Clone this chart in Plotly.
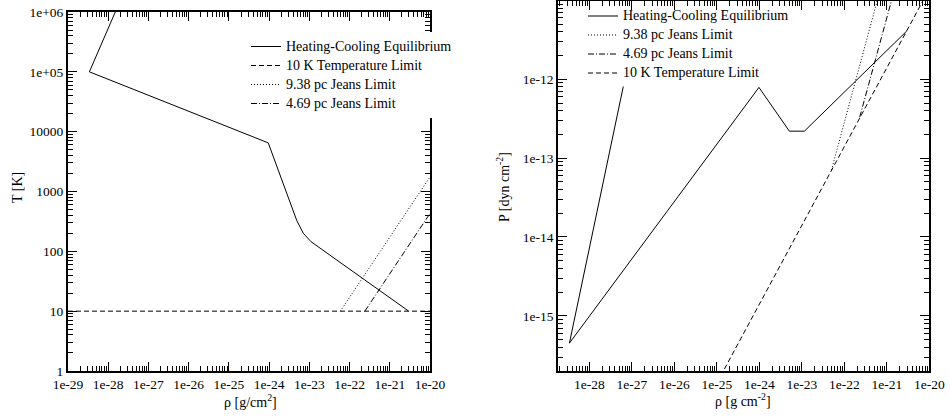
import plotly.graph_objects as go

W, H = 950, 417
FONT = "Liberation Serif"

# ---------------- data: left panel (T vs rho) ----------------
hc_rho_L = [6.3e-28, 3.4e-29, 9.5e-25, 4.9e-24, 7.1e-24, 1.1e-23, 2.95e-21]
hc_T_L = [9.3e6, 1.0e5, 6.5e3, 324, 200, 145, 10]
tlim_rho_L = [1e-29, 1e-20]
tlim_T_L = [10, 10]
j938_rho_L = [5.9e-23, 1e-20]
j938_T_L = [10, 1.75e3]
j469_rho_L = [2.4e-22, 1e-20]
j469_T_L = [10, 4.3e2]

# ---------------- data: right panel (P vs rho) ----------------
hc_rho_R = [6.3e-28, 3.4e-29, 9.8e-25, 5.1e-24, 1.15e-23, 2.95e-21]
hc_P_R = [8.1e-13, 4.5e-16, 7.9e-13, 2.2e-13, 2.2e-13, 4.1e-12]
tlim_rho_R = [1e-25, 1e-20]
tlim_P_R = [1.4e-16, 1.4e-11]
j938_rho_R = [5.0e-23, 1.0e-21]
j938_P_R = [7.1e-14, 2.8e-11]
j469_rho_R = [2.3e-22, 3.2e-21]
j469_P_R = [3.3e-13, 6.0e-11]

# ---------------- tick labels ----------------
xL_vals = [1e-29, 1e-28, 1e-27, 1e-26, 1e-25, 1e-24, 1e-23, 1e-22, 1e-21, 1e-20]
xL_text = ["1e-29", "1e-28", "1e-27", "1e-26", "1e-25", "1e-24", "1e-23", "1e-22", "1e-21", "1e-20"]
yL_vals = [1, 10, 100, 1000, 10000, 1e5, 1e6]
yL_text = ["1", "10", "100", "1000", "10000", "1e+05", "1e+06"]
xR_vals = [1e-28, 1e-27, 1e-26, 1e-25, 1e-24, 1e-23, 1e-22, 1e-21, 1e-20]
xR_text = ["1e-28", "1e-27", "1e-26", "1e-25", "1e-24", "1e-23", "1e-22", "1e-21", "1e-20"]
yR_vals = [1e-15, 1e-14, 1e-13, 1e-12]
yR_text = ["1e-15", "1e-14", "1e-13", "1e-12"]

SOLID = "solid"
DASH = "5px,3px"
DOT = "1px,2px"
DASHDOT = "6px,2px,1px,2px"

def ln(dash):
    return dict(color="black", width=1, dash=dash)

def nm(s):
    # legend font is small (tight rows); the visible text is 14px
    return f'<span style="font-size:14px">{s}</span>'

fig = go.Figure()
left_traces = [
    (hc_rho_L, hc_T_L, SOLID, "Heating-Cooling Equilibrium"),
    (tlim_rho_L, tlim_T_L, DASH, "10 K Temperature Limit"),
    (j938_rho_L, j938_T_L, DOT, "9.38 pc Jeans Limit"),
    (j469_rho_L, j469_T_L, DASHDOT, "4.69 pc Jeans Limit"),
]
right_traces = [
    (hc_rho_R, hc_P_R, SOLID, "Heating-Cooling Equilibrium"),
    (j938_rho_R, j938_P_R, DOT, "9.38 pc Jeans Limit"),
    (j469_rho_R, j469_P_R, DASHDOT, "4.69 pc Jeans Limit"),
    (tlim_rho_R, tlim_P_R, DASH, "10 K Temperature Limit"),
]
for xs, ys, d, name in left_traces:
    fig.add_trace(go.Scatter(x=xs, y=ys, mode="lines", line=ln(d), name=nm(name),
                             xaxis="x", yaxis="y", legend="legend"))
for xs, ys, d, name in right_traces:
    fig.add_trace(go.Scatter(x=xs, y=ys, mode="lines", line=ln(d), name=nm(name),
                             xaxis="x2", yaxis="y2", legend="legend2"))

def axis(domain, rng, vals, text, anchor):
    return dict(
        type="log", domain=domain, range=rng, anchor=anchor,
        tickmode="array", tickvals=vals, ticktext=text,
        showline=True, linewidth=2, linecolor="black", mirror="allticks",
        ticks="inside", ticklen=9, tickwidth=1, tickcolor="black",
        minor=dict(ticks="inside", ticklen=5, tickwidth=1, tickcolor="black", dtick="D1", showgrid=False),
        showgrid=False, zeroline=False, automargin=False, fixedrange=True,
        tickfont=dict(family=FONT, size=13.5, color="black"),
    )

fig.update_layout(
    width=W, height=H, margin=dict(l=0, r=0, t=0, b=0),
    paper_bgcolor="white", plot_bgcolor="white",
    font=dict(family=FONT, size=14, color="black"),
    xaxis=axis([68 / W, 430 / W], [-29, -20], xL_vals, xL_text, "y"),
    yaxis=axis([46 / H, 405 / H], [0, 6], yL_vals, yL_text, "x"),
    xaxis2=axis([558.3 / W, 929.3 / W], [-28.73, -20], xR_vals, xR_text, "y2"),
    yaxis2=axis([46 / H, 416.5 / H], [-15.70, -11.0], yR_vals, yR_text, "x2"),
    showlegend=True,
    legend=dict(x=246 / W, y=1 - 32 / H, xanchor="left", yanchor="top",
                bgcolor="white", borderwidth=0, font=dict(family=FONT, size=11),
                tracegroupgap=0),
    legend2=dict(x=583 / W, y=1 - 1.5 / H, xanchor="left", yanchor="top",
                 bgcolor="rgba(0,0,0,0)", borderwidth=0, font=dict(family=FONT, size=11),
                 tracegroupgap=0),
)

ann = dict(xref="paper", yref="paper", showarrow=False, xanchor="center", yanchor="middle",
           font=dict(family=FONT, size=14, color="black"))
fig.add_annotation(text="T [K]", x=17 / W, y=1 - 188 / H, textangle=-90, **ann)
fig.add_annotation(text="ρ [g/cm<sup>2</sup>]", x=250 / W, y=1 - 401 / H, **ann)
fig.add_annotation(text="P [dyn cm<sup>-2</sup>]", x=503 / W, y=1 - 187 / H, textangle=-90, **ann)
fig.add_annotation(text="ρ [g cm<sup>-2</sup>]", x=743 / W, y=1 - 400 / H, **ann)

fig.write_html("out.html")
